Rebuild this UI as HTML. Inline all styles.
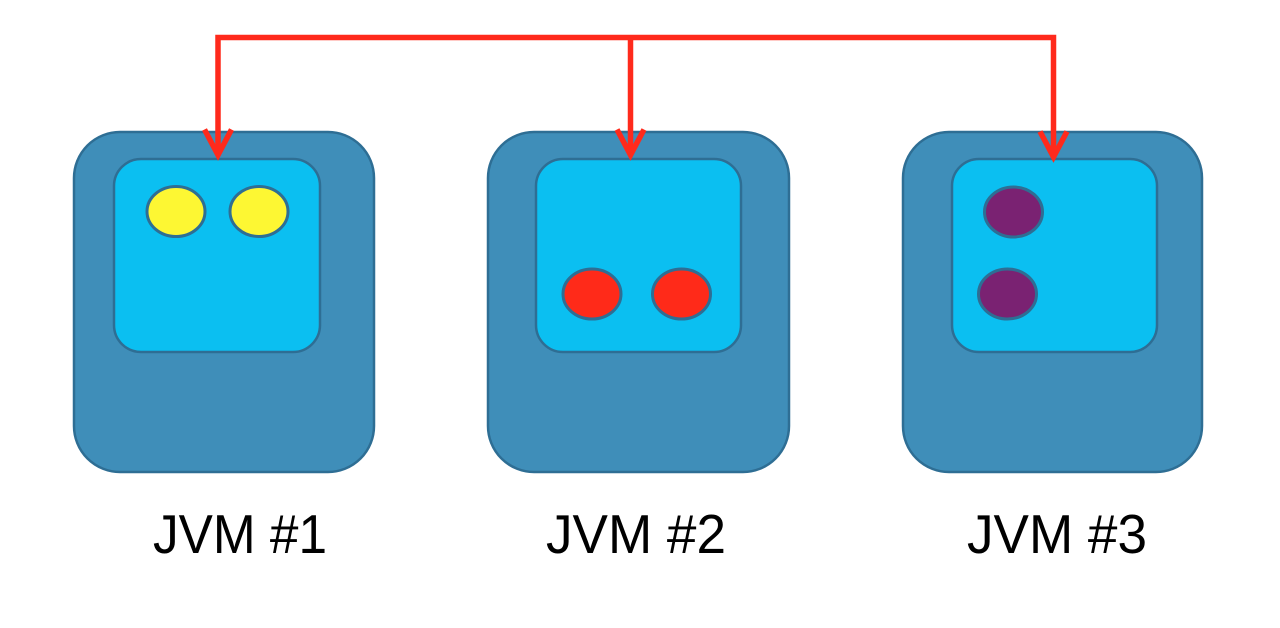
<!DOCTYPE html>
<html>
<head>
<meta charset="utf-8">
<style>
  html, body { margin: 0; padding: 0; background: #ffffff; }
  body { width: 1280px; height: 628px; overflow: hidden; }
  svg { display: block; }
  text { font-family: "Liberation Sans", Arial, sans-serif; }
</style>
</head>
<body>
<svg width="1280" height="628" viewBox="0 0 1280 628" xmlns="http://www.w3.org/2000/svg">
  <rect x="0" y="0" width="1280" height="628" fill="#ffffff"/>

  <!-- JVM boxes -->
  <g stroke="#2e6e94" stroke-width="2.5">
    <rect x="74" y="132" width="300" height="340" rx="46" ry="46" fill="#3f8eb9"/>
    <rect x="488" y="132" width="301" height="340" rx="46" ry="46" fill="#3f8eb9"/>
    <rect x="903" y="132" width="299" height="340" rx="46" ry="46" fill="#3f8eb9"/>

    <rect x="114" y="159" width="206" height="193" rx="27" ry="27" fill="#0bbff1"/>
    <rect x="536" y="159" width="205" height="193" rx="27" ry="27" fill="#0bbff1"/>
    <rect x="952" y="159" width="205" height="193" rx="27" ry="27" fill="#0bbff1"/>
  </g>

  <!-- threads -->
  <g stroke="#2e6e94" stroke-width="3">
    <ellipse cx="176" cy="211.5" rx="29" ry="25" fill="#fdf733"/>
    <ellipse cx="259" cy="211.5" rx="29" ry="25" fill="#fdf733"/>

    <ellipse cx="592" cy="294" rx="29" ry="25" fill="#ff2a19"/>
    <ellipse cx="681.5" cy="294" rx="29" ry="25" fill="#ff2a19"/>

    <ellipse cx="1013.5" cy="212" rx="29" ry="25" fill="#7a2272"/>
    <ellipse cx="1007.5" cy="294" rx="29" ry="25" fill="#7a2272"/>
  </g>

  <!-- red connectors -->
  <g stroke="#ff2a1c" stroke-width="5.5" fill="none" stroke-linecap="butt" stroke-linejoin="miter">
    <polyline points="218,153 218,37.5 1053.5,37.5 1053.5,155"/>
    <line x1="630.5" y1="37.5" x2="630.5" y2="153"/>
    <polyline points="204.5,129.5 218,155 231.5,129.5" stroke-width="5.5"/>
    <polyline points="617,129.5 630.5,155 644,129.5" stroke-width="5.5"/>
    <polyline points="1040,131.5 1053.5,157 1067,131.5" stroke-width="5.5"/>
  </g>

  <!-- labels -->
  <g fill="#000000" font-size="55" text-anchor="middle">
    <text x="240" y="553" textLength="174" lengthAdjust="spacingAndGlyphs">JVM #1</text>
    <text x="636" y="553" textLength="180" lengthAdjust="spacingAndGlyphs">JVM #2</text>
    <text x="1057" y="553" textLength="180" lengthAdjust="spacingAndGlyphs">JVM #3</text>
  </g>
</svg>
</body>
</html>
